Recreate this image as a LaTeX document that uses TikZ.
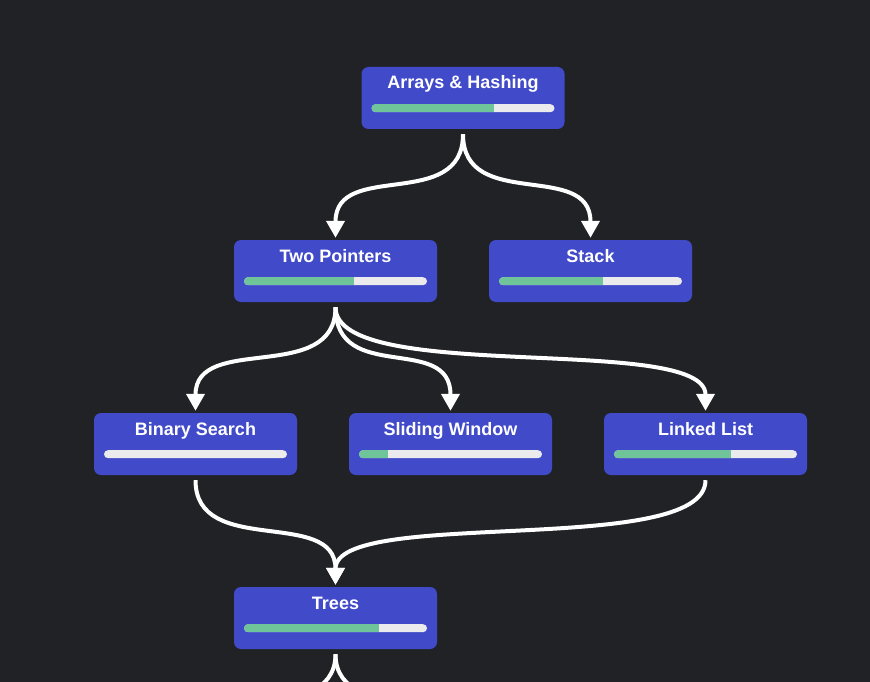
\documentclass[tikz,border=0pt]{standalone}
\usepackage{fontspec}
\setmainfont{Liberation Sans}
\usetikzlibrary{arrows.meta, positioning, calc, shapes.misc}

\definecolor{bgdark}{HTML}{212226}
\definecolor{boxblue}{HTML}{414AC8}
\definecolor{bargreen}{HTML}{6FC499}
\definecolor{bargrey}{HTML}{EBEBEE}

% progress bar under a topic box: node name, done fraction
\newcommand{\topicbar}[2]{%
  \node[bar, path picture={\fill[bargreen] (path picture bounding box.north west) rectangle ++({#2*183},8);}]
    (#1-bar) at ($(#1.south)+(0,-21)$) {};}

\begin{document}
\begin{tikzpicture}[
                    x=1pt, y=-1pt,
                    topic/.style={rectangle, rounded corners=7pt, fill=boxblue, text=white,
                                  font=\fontsize{18}{20}\selectfont\bfseries,
                                  minimum width=203pt, inner ysep=0pt,
                                  text height=22pt, text depth=40pt},
                    bar/.style={rounded rectangle, fill=bargrey, inner sep=0pt,
                                minimum width=183pt, minimum height=8pt},
                    flow/.style={draw=white, line width=4pt,
                                 -{Triangle[width=18pt,length=17pt]}}
                   ]
  \fill[bgdark] (0,0) rectangle (870,682);
  \useasboundingbox (0,0) rectangle (870,682);
  \clip (0,0) rectangle (870,682);

  \node[topic] (arrays) at (463,98) {Arrays \& Hashing};
  \node[topic] (pointers) at (335.5,271) {Two Pointers};
  \node[topic] (stack) at (590.5,271) {Stack};
  \node[topic] (binsearch) at (195.5,444) {Binary Search};
  \node[topic] (window) at (450.5,444) {Sliding Window};
  \node[topic] (linked) at (705.5,444) {Linked List};
  \node[topic] (trees) at (335.5,618) {Trees};

  \topicbar{arrays}{0.67}
  \topicbar{pointers}{0.60}
  \topicbar{stack}{0.57}
  \topicbar{binsearch}{0}
  \topicbar{window}{0.16}
  \topicbar{linked}{0.64}
  \topicbar{trees}{0.74}

  \coordinate (nextleft) at (170,758);
  \coordinate (nextright) at (500,758);

  % edges
  \draw[flow] ($(arrays.south)+(0,5)$) .. controls +(0,78) and +(0,-78) .. ($(pointers.north)+(0,-2)$);
  \draw[flow] ($(arrays.south)+(0,5)$) .. controls +(0,78) and +(0,-78) .. ($(stack.north)+(0,-2)$);
  \draw[flow] ($(pointers.south)+(0,5)$) .. controls +(0,78) and +(0,-78) .. ($(binsearch.north)+(0,-2)$);
  \draw[flow] ($(pointers.south)+(0,5)$) .. controls +(0,78) and +(0,-78) .. ($(window.north)+(0,-2)$);
  \draw[flow] ($(pointers.south)+(0,5)$) .. controls +(0,78) and +(0,-78) .. ($(linked.north)+(0,-2)$);
  \draw[flow] ($(binsearch.south)+(0,5)$) .. controls +(0,78) and +(0,-78) .. ($(trees.north)+(0,-2)$);
  \draw[flow] ($(linked.south)+(0,5)$) .. controls +(0,78) and +(0,-78) .. ($(trees.north)+(0,-2)$);
  \draw[flow] ($(trees.south)+(0,5)$) .. controls +(0,78) and +(0,-78) .. (nextleft);
  \draw[flow] ($(trees.south)+(0,5)$) .. controls +(0,78) and +(0,-78) .. (nextright);
\end{tikzpicture}
\end{document}
